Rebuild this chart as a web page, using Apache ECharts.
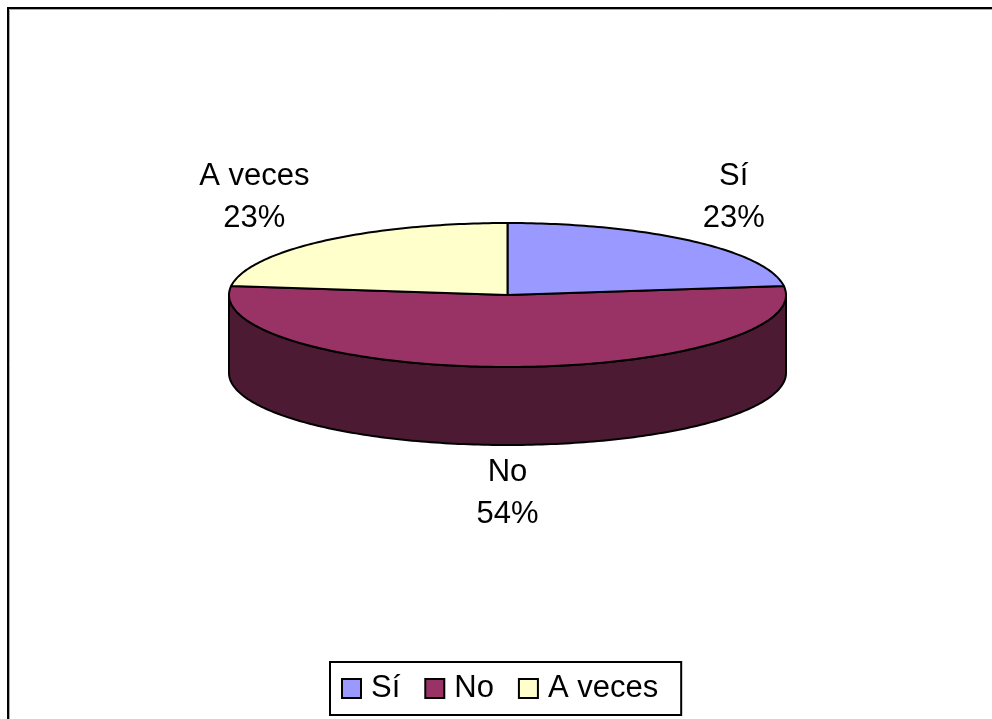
<!DOCTYPE html>
<html>
<head>
<meta charset="utf-8">
<style>html,body{margin:0;padding:0;background:#fff}#c{width:992px;height:719px}</style>
<script src="https://cdn.jsdelivr.net/npm/echarts@6/dist/echarts.min.js"></script>
</head>
<body>
<div id="c"></div>
<script>
const categories = ['Sí', 'No', 'A veces'];
const values = [23, 54, 23];
const topColors = ['#9999FF', '#993366', '#FFFFCC'];
const sideColors = ['#4D4D80', '#4D1A33', '#808066'];

const CX = 507.5, CY = 295, RX = 278.5, RY = 72, DEPTH = 78, STEP = Math.PI / 180;
const FONT = 'Liberation Sans';
const labelOffsets = [[42, -44], [0, 48], [-69, -44]];
const total = values.reduce((a, b) => a + b, 0);

function pt(theta, dy) {
  return [CX + RX * Math.sin(theta), CY - RY * Math.cos(theta) + (dy || 0)];
}
function sliceRange(i) {
  const before = values.slice(0, i).reduce((a, b) => a + b, 0);
  return [before / total * 2 * Math.PI, (before + values[i]) / total * 2 * Math.PI];
}
function arc(a, b, dy) {
  const pts = [];
  const n = Math.max(2, Math.ceil(Math.abs(b - a) / STEP));
  for (let k = 0; k <= n; k++) pts.push(pt(a + (b - a) * k / n, dy));
  return pts;
}
const stroke = { stroke: '#000', lineWidth: 2, lineJoin: 'round' };

function renderSlice(i) {
  const [a, b] = sliceRange(i);
  const children = [];
  const sa = Math.max(a, Math.PI / 2), sb = Math.min(b, 3 * Math.PI / 2);
  if (sb > sa) {
    const front = arc(sa, sb, 0), back = arc(sb, sa, DEPTH);
    children.push({ type: 'polygon', z2: 1, shape: { points: front.concat(back) },
      style: Object.assign({ fill: sideColors[i] }, stroke) });
  }
  children.push({ type: 'polygon', z2: 2, shape: { points: [[CX, CY]].concat(arc(a, b, 0)) },
    style: Object.assign({ fill: topColors[i] }, stroke) });
  const mid = (a + b) / 2;
  const anchor = pt(mid, Math.cos(mid) < -0.9 ? DEPTH : 0);
  children.push({ type: 'text', z2: 3,
    x: anchor[0] + labelOffsets[i][0], y: anchor[1] + labelOffsets[i][1],
    style: { text: categories[i] + '\n' + Math.round(values[i] / total * 100) + '%',
      fill: '#000', font: '31px "' + FONT + '"', lineHeight: 42, align: 'center', verticalAlign: 'middle' } });
  return { type: 'group', children };
}

const series = categories.map((name, i) => ({
  type: 'custom', name, coordinateSystem: 'none', silent: true, animation: false, z: i === 1 ? 1 : 2,
  itemStyle: { color: topColors[i] },
  data: [values[i]],
  renderItem: () => renderSlice(i)
}));

const chart = echarts.init(document.getElementById('c'), null, { renderer: 'canvas' });
chart.setOption({
  animation: false,
  backgroundColor: '#fff',
  legend: {
    left: 330, top: 662, orient: 'horizontal', selectedMode: false,
    padding: [11, 23, 11, 11], itemGap: 24, itemWidth: 19, itemHeight: 19,
    borderColor: '#000', borderWidth: 2, backgroundColor: '#fff',
    textStyle: { fontFamily: FONT, fontSize: 31, color: '#000', padding: [0, 0, 0, 5] },
    data: categories.map((name, i) => ({ name, icon: 'rect',
      itemStyle: { color: topColors[i], borderColor: '#000', borderWidth: 2 } }))
  },
  graphic: [
    { type: 'polyline', silent: true, shape: { points: [[9.5, 719], [9.5, 9.5], [992, 9.5]] }, style: { stroke: '#aaa', lineWidth: 1, fill: null } },
    { type: 'polyline', silent: true, shape: { points: [[8, 719], [8, 8], [992, 8]] }, style: { stroke: '#000', lineWidth: 2, fill: null } }
  ],
  series
});
</script>
</body>
</html>
